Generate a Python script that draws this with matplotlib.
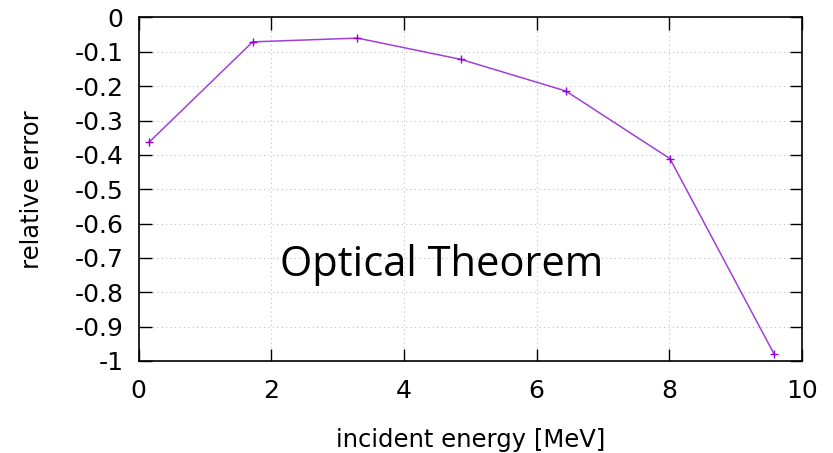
import numpy as np
import matplotlib
matplotlib.use('Agg')
import matplotlib.pyplot as plt

# incident energy [MeV] and relative error of the optical theorem
energy = [0.16, 1.72, 3.30, 4.86, 6.44, 8.01, 9.58]
rel_err = [-0.363, -0.071, -0.060, -0.122, -0.214, -0.411, -0.980]

x_ticks = [0, 2, 4, 6, 8, 10]
y_ticks = [0, -0.1, -0.2, -0.3, -0.4, -0.5, -0.6, -0.7, -0.8, -0.9, -1]
y_labels = ['0', '-0.1', '-0.2', '-0.3', '-0.4', '-0.5', '-0.6', '-0.7', '-0.8', '-0.9', '-1']

plt.rcParams['font.family'] = 'DejaVu Sans'

fig = plt.figure(figsize=(8.33, 4.53), dpi=100)
ax = fig.add_axes([0.1663, 0.2031, 0.7965, 0.7583])

ax.plot(energy, rel_err, color='#a040d8', lw=1.1, marker='+', ms=6,
        mew=1.0, mec='#9400d3')

ax.set_xlim(0, 10)
ax.set_ylim(-1, 0)
ax.set_xticks(x_ticks)
ax.set_xticklabels([str(t) for t in x_ticks])
ax.set_yticks(y_ticks)
ax.set_yticklabels(y_labels)

ax.tick_params(direction='in', length=9, width=1, labelsize=18,
               top=True, right=True)
ax.tick_params(axis='x', pad=13)
ax.tick_params(axis='y', pad=11)
for s in ax.spines.values():
    s.set_linewidth(1.2)

ax.grid(True, ls=(0, (1, 3)), color='#c0c0c0', lw=0.8)

ax.set_xlabel('incident energy [MeV]', fontsize=17.5, labelpad=18)
ax.set_ylabel('relative error', fontsize=17.5, labelpad=22)

ax.text(0.4575, 0.28, 'Optical Theorem', transform=ax.transAxes,
        fontsize=30, family='Open Sans', ha='center', va='center')

fig.savefig('out.png', dpi=100)
